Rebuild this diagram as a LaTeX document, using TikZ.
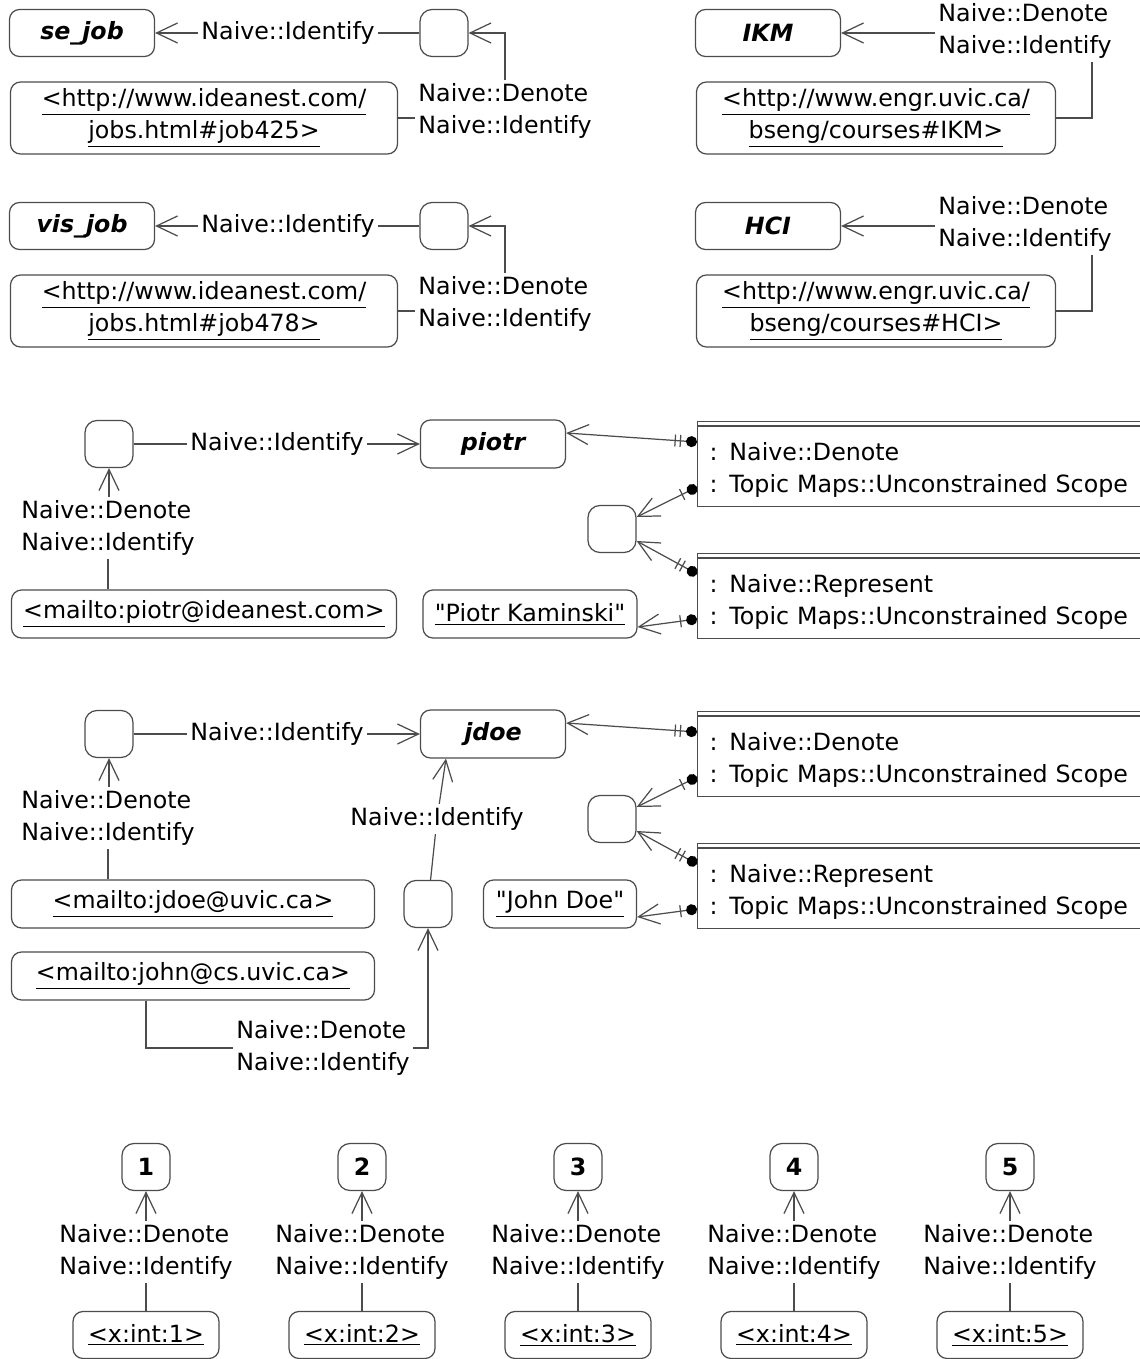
\documentclass[tikz,border=0pt]{standalone}
\usepackage{fontspec}
\setmainfont{DejaVu Sans}
\usetikzlibrary{arrows.meta}

\begin{document}
\begin{tikzpicture}[x=0.2mm, y=-0.2mm, line width=0.7pt, color=black!70,
    >={Straight Barb[length=4.2mm, width=4mm]},
    every node/.style={text=black, font=\fontsize{13.5}{18.2}\selectfont},
    topic/.style={draw, rounded corners=2mm, minimum width=29mm, minimum height=9.4mm,
        inner sep=0pt, font=\fontsize{13.5}{18.2}\selectfont\bfseries\itshape},
    addr/.style={draw, rounded corners=2mm, minimum height=9.4mm, inner sep=0pt, align=center},
    blank/.style={draw, rounded corners=2.4mm, minimum width=9.6mm, minimum height=9.4mm,
        inner sep=0pt, font=\fontsize{13.5}{18.2}\selectfont\bfseries},
    assoc/.style={align=left, inner sep=0.6mm},
    scoped/.style={draw, anchor=north west, text width=88mm, inner xsep=2.4mm,
        minimum height=17mm, align=left},
    one/.style={{Circle[length=2.2mm, sep=0pt, black] Bar[width=2.4mm, sep=1mm]}->},
    two/.style={{Circle[length=2.2mm, sep=0pt, black] Bar[width=2.4mm, sep=1mm] Bar[width=2.4mm, sep=0.8mm]}->}]
    % Fixed Bounding Box, 1 unit = 1 px of the original
    \useasboundingbox (0,0) rectangle (1139,1359);

    \def\denid{Naive::Denote\\Naive::Identify}
    \def\lift{\rule{0pt}{17pt}}

    % se_job
    \node[topic] (sejob) at (82,33) {se\_job};
    \node[assoc] (idsej) at (288,33) {Naive::Identify};
    \node[blank] (rsej) at (444,33) {};
    \node[addr, minimum width=77.4mm, minimum height=14.4mm] (usej) at (204,118)
        {\underline{<http://www.ideanest.com/}\\\underline{jobs.html\#job425>}};
    \node[assoc] (dsej) at (505,111) {\denid};
    \draw[->] (idsej) -- (sejob);
    \draw (idsej) -- (rsej);
    \draw (usej.east) -- (usej.east -| dsej.west);
    \draw[->] (dsej.north) |- (rsej.east);

    % IKM
    \node[topic] (ikm) at (768,33) {IKM};
    \node[assoc] (dikm) at (1025,31) {\denid};
    \node[addr, minimum width=71.8mm, minimum height=14.4mm] (uikm) at (876,118)
        {\underline{<http://www.engr.uvic.ca/}\\\underline{bseng/courses\#IKM>}};
    \draw[->] (ikm.east -| dikm.west) -- (ikm.east);
    \draw (uikm.east) -| ([xshift=13.4mm]dikm.south);

    % vis_job
    \node[topic] (visjob) at (82,226) {vis\_job};
    \node[assoc] (idvis) at (288,226) {Naive::Identify};
    \node[blank] (rvis) at (444,226) {};
    \node[addr, minimum width=77.4mm, minimum height=14.4mm] (uvis) at (204,311)
        {\underline{<http://www.ideanest.com/}\\\underline{jobs.html\#job478>}};
    \node[assoc] (dvis) at (505,304) {\denid};
    \draw[->] (idvis) -- (visjob);
    \draw (idvis) -- (rvis);
    \draw (uvis.east) -- (uvis.east -| dvis.west);
    \draw[->] (dvis.north) |- (rvis.east);

    % HCI
    \node[topic] (hci) at (768,226) {HCI};
    \node[assoc] (dhci) at (1025,224) {\denid};
    \node[addr, minimum width=71.8mm, minimum height=14.4mm] (uhci) at (876,311)
        {\underline{<http://www.engr.uvic.ca/}\\\underline{bseng/courses\#HCI>}};
    \draw[->] (hci.east -| dhci.west) -- (hci.east);
    \draw (uhci.east) -| ([xshift=13.4mm]dhci.south);

    % piotr
    \node[blank] (rpio) at (109,444) {};
    \node[assoc] (idpio) at (277,444) {Naive::Identify};
    \node[topic, minimum height=9.6mm] (piotr) at (493,444) {piotr};
    \node[assoc] (dpio) at (108,528) {\denid};
    \node[addr, minimum width=77mm, minimum height=9.6mm] (mpio) at (204,614)
        {\underline{<mailto:piotr@ideanest.com>}};
    \node[addr, minimum width=42.8mm, minimum height=9.6mm] (npio) at (530,614)
        {\underline{\textquotedbl Piotr Kaminski\textquotedbl}};
    \node[blank] (rspio) at (612,529) {};
    \node[scoped] (denpio) at (697,421)
        {\lift: Naive::Denote\\: Topic Maps::Unconstrained Scope};
    \node[scoped] (reppio) at (697,553)
        {\lift: Naive::Represent\\: Topic Maps::Unconstrained Scope};
    \draw ([yshift=-1mm]denpio.north west) -- ([yshift=-1mm]denpio.north east);
    \draw ([yshift=-1mm]reppio.north west) -- ([yshift=-1mm]reppio.north east);
    \draw (rpio) -- (idpio);
    \draw[->] (idpio) -- (piotr);
    \draw[->] (dpio.north -| rpio) -- (rpio.south);
    \draw (dpio.south) -- (dpio.south |- mpio.north);
    \draw[two] ([yshift=-4.2mm]denpio.north west) -- ([yshift=2.2mm]piotr.east);
    \draw[one] ([yshift=-13.2mm]denpio.north west) -- ([yshift=2.4mm]rspio.east);
    \draw[two] ([yshift=-4.2mm]reppio.north west) -- ([yshift=-2.4mm]rspio.east);
    \draw[one] ([yshift=-13.2mm]reppio.north west) -- ([yshift=-2.6mm]npio.east);

    % jdoe
    \node[blank] (rjd) at (109,734) {};
    \node[assoc] (idjd) at (277,734) {Naive::Identify};
    \node[topic, minimum height=9.6mm] (jdoe) at (493,734) {jdoe};
    \node[assoc] (djd) at (108,818) {\denid};
    \node[addr, minimum width=72.6mm, minimum height=9.6mm] (mjd) at (193,904)
        {\underline{<mailto:jdoe@uvic.ca>}};
    \node[addr, minimum width=30.6mm, minimum height=9.6mm] (njd) at (560,904)
        {\underline{\textquotedbl John Doe\textquotedbl}};
    \node[blank] (rsjd) at (612,819) {};
    \node[scoped] (denjd) at (697,711)
        {\lift: Naive::Denote\\: Topic Maps::Unconstrained Scope};
    \node[scoped] (repjd) at (697,843)
        {\lift: Naive::Represent\\: Topic Maps::Unconstrained Scope};
    \draw ([yshift=-1mm]denjd.north west) -- ([yshift=-1mm]denjd.north east);
    \draw ([yshift=-1mm]repjd.north west) -- ([yshift=-1mm]repjd.north east);
    \draw (rjd) -- (idjd);
    \draw[->] (idjd) -- (jdoe);
    \draw[->] (djd.north -| rjd) -- (rjd.south);
    \draw (djd.south) -- (djd.south |- mjd.north);
    \draw[two] ([yshift=-4.2mm]denjd.north west) -- ([yshift=2.2mm]jdoe.east);
    \draw[one] ([yshift=-13.2mm]denjd.north west) -- ([yshift=2.4mm]rsjd.east);
    \draw[two] ([yshift=-4.2mm]repjd.north west) -- ([yshift=-2.4mm]rsjd.east);
    \draw[one] ([yshift=-13.2mm]repjd.north west) -- ([yshift=-2.6mm]njd.east);

    % second address of jdoe
    \node[blank] (rjohn) at (428,904) {};
    \node[assoc] (idjohn) at (437,819) {Naive::Identify};
    \node[addr, minimum width=72.6mm, minimum height=9.6mm] (mjohn) at (193,976)
        {\underline{<mailto:john@cs.uvic.ca>}};
    \node[assoc] (djohn) at (323,1048) {\denid};
    \draw (rjohn) -- (idjohn);
    \draw[->] (idjohn) -- ([xshift=-9.4mm]jdoe.south);
    \draw ([xshift=-9.4mm]mjohn.south) |- (djohn.west);
    \draw[->] (djohn.east) -| (rjohn.south);

    % integers
    \node[blank] (int1) at (146,1167) {1};
    \node[assoc] (dint1) at (146,1252) {\denid};
    \node[addr, minimum width=29.2mm] (xint1) at (146,1335) {\underline{<x:int:1>}};
    \node[blank] (int2) at (362,1167) {2};
    \node[assoc] (dint2) at (362,1252) {\denid};
    \node[addr, minimum width=29.2mm] (xint2) at (362,1335) {\underline{<x:int:2>}};
    \node[blank] (int3) at (578,1167) {3};
    \node[assoc] (dint3) at (578,1252) {\denid};
    \node[addr, minimum width=29.2mm] (xint3) at (578,1335) {\underline{<x:int:3>}};
    \node[blank] (int4) at (794,1167) {4};
    \node[assoc] (dint4) at (794,1252) {\denid};
    \node[addr, minimum width=29.2mm] (xint4) at (794,1335) {\underline{<x:int:4>}};
    \node[blank] (int5) at (1010,1167) {5};
    \node[assoc] (dint5) at (1010,1252) {\denid};
    \node[addr, minimum width=29.2mm] (xint5) at (1010,1335) {\underline{<x:int:5>}};
    \draw[->] (dint1) -- (int1);
    \draw (dint1) -- (xint1);
    \draw[->] (dint2) -- (int2);
    \draw (dint2) -- (xint2);
    \draw[->] (dint3) -- (int3);
    \draw (dint3) -- (xint3);
    \draw[->] (dint4) -- (int4);
    \draw (dint4) -- (xint4);
    \draw[->] (dint5) -- (int5);
    \draw (dint5) -- (xint5);
\end{tikzpicture}
\end{document}
